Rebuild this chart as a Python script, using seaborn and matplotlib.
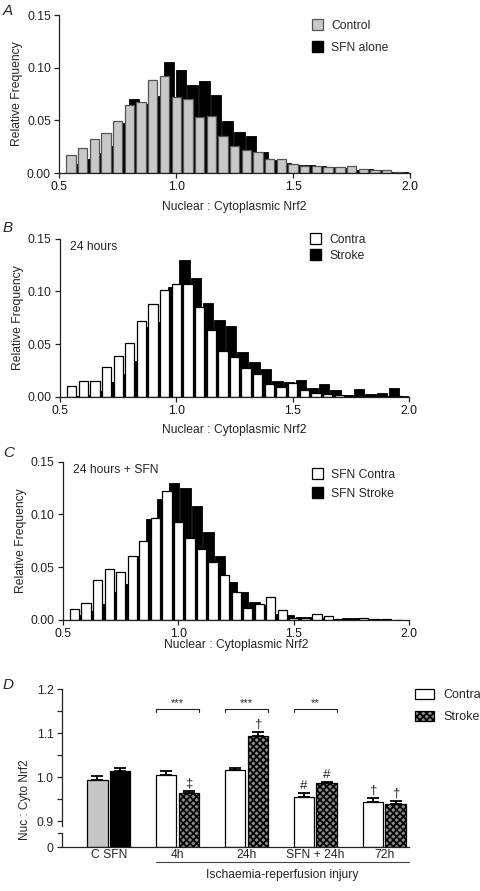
import numpy as np
import pandas as pd
import matplotlib
matplotlib.use("Agg")
import matplotlib.pyplot as plt
import matplotlib.transforms as mtransforms
from matplotlib.patches import Patch
import seaborn as sns

# ---- values ----
# frequency distributions of the nuclear:cytoplasmic Nrf2 ratio, bins of 0.05
bin_centres = [0.55, 0.60, 0.65, 0.70, 0.75, 0.80, 0.85, 0.90, 0.95, 1.00,
               1.05, 1.10, 1.15, 1.20, 1.25, 1.30, 1.35, 1.40, 1.45, 1.50,
               1.55, 1.60, 1.65, 1.70, 1.75, 1.80, 1.85, 1.90, 1.95]

# A: control vs SFN alone
control = [0.017, 0.024, 0.0325, 0.038, 0.049, 0.065, 0.067, 0.088, 0.092, 0.0726,
           0.070, 0.053, 0.054, 0.035, 0.026, 0.0215, 0.020, 0.013, 0.0136, 0.0088,
           0.0069, 0.0063, 0.006, 0.0054, 0.0066, 0.0035, 0.0028, 0.0028, 0.0005]
sfn_alone = [0.009, 0.013, 0.0186, 0.026, 0.047, 0.070, 0.0656, 0.073, 0.105, 0.098,
             0.084, 0.087, 0.074, 0.049, 0.039, 0.035, 0.020, 0.012, 0.0095, 0.0079,
             0.0073, 0.0066, 0.0057, 0.005, 0.003, 0.0035, 0.0025, 0.0013, 0.0006]

# B: 24 hours
contra_24h = [0.010, 0.015, 0.015, 0.028, 0.039, 0.051, 0.072, 0.088, 0.101, 0.107,
              0.1066, 0.085, 0.0636, 0.043, 0.038, 0.0275, 0.022, 0.0117, 0.009, 0.013,
              0.0066, 0.0035, 0.003, 0.002, 0.001, 0.001, 0.0006, 0.001, 0.001]
stroke_24h = [0.001, 0.0013, 0.005, 0.0136, 0.0215, 0.0335, 0.0665, 0.0706, 0.1044, 0.130,
              0.113, 0.0886, 0.0728, 0.067, 0.0427, 0.033, 0.026, 0.0149, 0.0136, 0.0158,
              0.0085, 0.012, 0.0063, 0.0016, 0.007, 0.0025, 0.0038, 0.0079, 0.001]

# C: 24 hours + SFN
sfn_contra = [0.0107, 0.0164, 0.0375, 0.048, 0.0454, 0.061, 0.075, 0.0965, 0.1218, 0.0927,
              0.078, 0.0669, 0.055, 0.043, 0.0265, 0.011, 0.0148, 0.0215, 0.0095, 0.002,
              0.0016, 0.0057, 0.004, 0.0013, 0.0013, 0.002, 0.001, 0.0006, 0.0003]
sfn_stroke = [0.0047, 0.0088, 0.0148, 0.0268, 0.034, 0.061, 0.0953, 0.115, 0.130, 0.125,
              0.108, 0.083, 0.0606, 0.0356, 0.027, 0.017, 0.0139, 0.006, 0.0044, 0.0028,
              0.0025, 0.002, 0.0013, 0.0016, 0.0016, 0.0013, 0.0006, 0.0003, 0.0]

# D: mean ratio +/- SEM
groups = ["C SFN", "4h", "24h", "SFN + 24h", "72h"]
sides = ["Contra", "Stroke"]
contra_mean = [0.994, 1.004, 1.016, 0.955, 0.944]
contra_sem = [0.008, 0.011, 0.005, 0.009, 0.008]
stroke_mean = [1.014, 0.963, 1.094, 0.986, 0.938]
stroke_sem = [0.007, 0.005, 0.008, 0.003, 0.008]
brackets = [("4h", "***"), ("24h", "***"), ("SFN + 24h", "**")]
marks = [("4h", "Stroke", "\u2021"), ("24h", "Stroke", "\u2020"),
         ("SFN + 24h", "Contra", "#"), ("SFN + 24h", "Stroke", "#"),
         ("72h", "Contra", "\u2020"), ("72h", "Stroke", "\u2020")]

sns.set_theme(style="ticks")
plt.rcParams["font.family"] = ["Liberation Sans", "DejaVu Sans"]
plt.rcParams["hatch.linewidth"] = 1.25
plt.rcParams["axes.linewidth"] = 0.9
plt.rcParams["axes.edgecolor"] = "#222222"

FS = 8.7
W, H = 480, 891
CHECK = "xxxxx"     # dense cross hatch standing in for the checkerboard fill
fig = plt.figure(figsize=(W / 100, H / 100), dpi=100)


def px_rect(left, right, top, bottom):
    # axes rectangle from pixel edges of the reference
    return [left / W, 1 - bottom / H, (right - left) / W, (bottom - top) / H]


def freq_panel(ax, front, back, front_col, front_edge, labels, shift, legend_xy,
               spacing, xlabel_y, note=None):
    x = np.asarray(bin_centres)
    # second series sits behind, nudged right
    sns.barplot(x=x + shift, y=back, native_scale=True, width=0.9, color="black",
                edgecolor="black", linewidth=0.6, saturation=1, errorbar=None, ax=ax)
    sns.barplot(x=x, y=front, native_scale=True, width=0.8, color=front_col,
                edgecolor=front_edge, linewidth=0.9, saturation=1, errorbar=None, ax=ax)
    ax.set_xlim(0.5, 2.0)
    ax.set_ylim(0, 0.15)
    ax.set_xticks([0.5, 1.0, 1.5, 2.0], ["0.5", "1.0", "1.5", "2.0"])
    ax.set_yticks([0, 0.05, 0.10, 0.15], ["0.00", "0.05", "0.10", "0.15"])
    ax.tick_params(labelsize=FS, length=3.5, width=0.9, pad=2.5, colors="#222222")
    ax.tick_params(axis="x", labelcolor="#111111")
    ax.set_xlabel("Nuclear : Cytoplasmic Nrf2", fontsize=FS)
    ax.set_ylabel("Relative Frequency", fontsize=FS)
    ax.xaxis.set_label_coords(0.5, xlabel_y)
    ax.yaxis.set_label_coords(-0.104, 0.5)
    sns.despine(ax=ax)
    if note:
        ax.text(0.03, 0.945, note, transform=ax.transAxes, fontsize=FS, va="center")
    handles = [Patch(facecolor=front_col, edgecolor=front_edge, linewidth=0.9),
               Patch(facecolor="black", edgecolor="black")]
    fig.legend(handles, labels, loc="upper left", bbox_to_anchor=legend_xy,
               frameon=False, fontsize=FS, handlelength=0.9, handleheight=1.0,
               handletextpad=0.7, labelspacing=spacing, borderpad=0, borderaxespad=0)


ax_a = fig.add_axes(px_rect(59.3, 410, 15, 173))
freq_panel(ax_a, control, sfn_alone, "#c8c8c8", "#555555", ["Control", "SFN alone"],
           0.02, (312 / W, 1 - 19 / H), 0.8, -0.178)

ax_b = fig.add_axes(px_rect(60, 409, 238.7, 396.7))
freq_panel(ax_b, contra_24h, stroke_24h, "white", "black", ["Contra", "Stroke"],
           0.035, (310 / W, 1 - 233 / H), 0.32, -0.173, note="24 hours")

ax_c = fig.add_axes(px_rect(63, 409.3, 461.7, 620))
freq_panel(ax_c, sfn_contra, sfn_stroke, "white", "black", ["SFN Contra", "SFN Stroke"],
           0.03, (312 / W, 1 - 468 / H), 0.57, -0.12, note="24 hours + SFN")

# ---- D: grouped bars on a broken y axis ----
ax_d = fig.add_axes(px_rect(62.3, 409, 689.3, 847.3))
df = pd.DataFrame({"group": groups * 2,
                   "side": [sides[0]] * len(groups) + [sides[1]] * len(groups),
                   "value": contra_mean + stroke_mean})
sns.barplot(data=df, x="group", y="value", hue="side", order=groups, hue_order=sides,
            palette=["white", "#8a8a8a"], width=0.66, gap=0.1, edgecolor="black",
            linewidth=0.9, saturation=1, errorbar=None, legend=False, ax=ax_d)
contra_bars, stroke_bars = ax_d.containers[0], ax_d.containers[1]
for p in stroke_bars[1:]:
    p.set_hatch(CHECK)
contra_bars[0].set_facecolor("#c6c6c6")
stroke_bars[0].set_facecolor("black")

bars_by_side = {"Contra": contra_bars, "Stroke": stroke_bars}
tops = {"Contra": np.add(contra_mean, contra_sem), "Stroke": np.add(stroke_mean, stroke_sem)}
for side, means, errs in (("Contra", contra_mean, contra_sem), ("Stroke", stroke_mean, stroke_sem)):
    xs = [p.get_x() + p.get_width() / 2 for p in bars_by_side[side]]
    ax_d.errorbar(xs, means, yerr=[np.zeros(len(errs)), errs], fmt="none", ecolor="black",
                  elinewidth=1.3, capsize=4, capthick=1.3, zorder=3)

# squash everything below 0.9 into a short stub
brk, squash = 0.9, 0.066


def fwd(y):
    y = np.asarray(y, dtype=float)
    return np.where(y >= brk, y, brk - (brk - y) * squash)


def inv(y):
    y = np.asarray(y, dtype=float)
    return np.where(y >= brk, y, brk - (brk - y) / squash)


ax_d.set_yscale("function", functions=(fwd, inv))
ax_d.set_ylim(0, 1.2)
ax_d.set_xlim(-0.674, 4.36)
ax_d.set_yticks([0, 0.9, 1.0, 1.1, 1.2], ["0", "0.9", "1.0", "1.1", "1.2"])
ax_d.set_yticks([0.95, 1.05, 1.15], minor=True)
ax_d.tick_params(axis="y", which="both", labelsize=8.7, length=3.8, width=0.9, pad=2.5)
ax_d.tick_params(axis="x", length=0, labelsize=8.7, pad=1.5)
ax_d.set_xlabel("")
ax_d.set_ylabel("Nuc : Cyto Nrf2", fontsize=8.5)
ax_d.yaxis.set_label_coords(-0.09, 0.30)
sns.despine(ax=ax_d)
ax_d.spines["left"].set_bounds(0.72, 1.2)
ytrans = mtransforms.blended_transform_factory(ax_d.transAxes, ax_d.transData)
ax_d.plot([0, 0], [0, 0.5], transform=ytrans, color="#222222", lw=0.9, clip_on=False)
ax_d.plot([-0.011, 0], [0.5, 0.5], transform=ytrans, color="#222222", lw=0.9, clip_on=False)

bracket_y, leg = 1.155, 0.007
for grp, stars in brackets:
    i = groups.index(grp)
    x0 = contra_bars[i].get_x()
    x1 = stroke_bars[i].get_x() + stroke_bars[i].get_width()
    ax_d.plot([x0, x0, x1, x1], [bracket_y - leg, bracket_y, bracket_y, bracket_y - leg],
              color="#222222", lw=0.8)
    ax_d.text((x0 + x1) / 2, bracket_y + 0.003, stars, ha="center", va="bottom", fontsize=8)

for grp, side, sym in marks:
    i = groups.index(grp)
    p = bars_by_side[side][i]
    ax_d.annotate(sym, (p.get_x() + p.get_width() / 2, tops[side][i]),
                  xytext=(0, 1), textcoords="offset points", ha="center", va="bottom",
                  fontsize=9.5)

# label under the injury groups
xtrans = mtransforms.blended_transform_factory(ax_d.transData, ax_d.transAxes)
x_start = contra_bars[1].get_x()
x_end = ax_d.get_xlim()[1]
ax_d.plot([x_start, x_end], [-0.091, -0.091], transform=xtrans, color="#444444",
          lw=0.8, clip_on=False)
ax_d.text((x_start + x_end) / 2, -0.177, "Ischaemia-reperfusion injury", transform=xtrans,
          ha="center", va="center", fontsize=8.7)

fig.legend([Patch(facecolor="white", edgecolor="black", linewidth=0.9),
            Patch(facecolor="#8a8a8a", edgecolor="black", hatch=CHECK, linewidth=0.9)],
           sides, loc="upper left", bbox_to_anchor=(415 / W, 1 - 689 / H), frameon=False,
           fontsize=9, handlelength=1.55, handleheight=0.85, handletextpad=0.7,
           labelspacing=0.75, borderpad=0, borderaxespad=0)

for letter, ypx in (("A", 11), ("B", 228), ("C", 453), ("D", 685)):
    fig.text(3 / W, 1 - ypx / H, letter, fontsize=11, style="italic", va="center", ha="left")

fig.savefig("out.png", dpi=100)
